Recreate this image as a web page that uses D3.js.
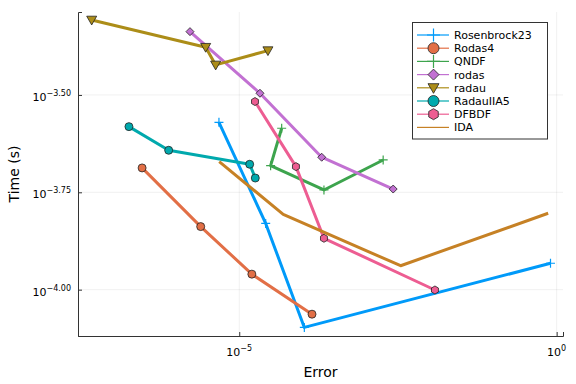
<!DOCTYPE html>
<html lang="en">
<head>
	<meta charset="utf-8">
	<title>Work-precision</title>
	<script src="https://cdn.jsdelivr.net/npm/d3@7"></script>
	<style>
		body { margin: 0; background: #fff; }
		text { font-family: "DejaVu Sans", sans-serif; fill: #000; }
	</style>
</head>
<body>
<script>
// Series names
var seriesNames = ["Rosenbrock23", "Rodas4", "QNDF", "rodas", "radau", "RadauIIA5", "DFBDF", "IDA"];

// Error values (x) per series
var errRosenbrock23 = [4.79e-6, 2.61e-5, 1.06e-4, 0.80];
var errRodas4       = [2.95e-7, 2.47e-6, 1.58e-5, 1.40e-4];
var errQNDF         = [4.66e-5, 3.12e-5, 2.16e-4, 1.85e-3];
var errRodas        = [1.675e-6, 2.12e-5, 1.99e-4, 2.66e-3];
var errRadau        = [4.74e-8, 2.96e-6, 4.25e-6, 2.83e-5];
var errRadauIIA5    = [1.83e-7, 7.73e-7, 1.46e-5, 1.79e-5];
var errDFBDF        = [1.77e-5, 7.82e-5, 2.16e-4, 1.21e-2];
var errIDA          = [4.84e-6, 4.93e-5, 3.48e-3, 0.735];

// Time values (y) per series
var timeRosenbrock23 = [2.69e-4, 1.479e-4, 8.0e-5, 1.169e-4];
var timeRodas4       = [2.054e-4, 1.452e-4, 1.096e-4, 8.65e-5];
var timeQNDF         = [2.597e-4, 2.082e-4, 1.803e-4, 2.153e-4];
var timeRodas        = [4.598e-4, 3.194e-4, 2.188e-4, 1.813e-4];
var timeRadau        = [4.927e-4, 4.194e-4, 3.777e-4, 4.111e-4];
var timeRadauIIA5    = [2.622e-4, 2.28e-4, 2.099e-4, 1.935e-4];
var timeDFBDF        = [3.041e-4, 2.07e-4, 1.355e-4, 9.98e-5];
var timeIDA          = [2.131e-4, 1.561e-4, 1.152e-4, 1.571e-4];

// Tick labels
var xTickExps = [-5, 0];
var xTickLabels = ["\u22125", "0"];
var yTickExps = [-3.5, -3.75, -4];
var yTickLabels = ["\u22123.50", "\u22123.75", "\u22124.00"];

var errs = [errRosenbrock23, errRodas4, errQNDF, errRodas, errRadau, errRadauIIA5, errDFBDF, errIDA];
var times = [timeRosenbrock23, timeRodas4, timeQNDF, timeRodas, timeRadau, timeRadauIIA5, timeDFBDF, timeIDA];
var colors = ["#009af9", "#e26f46", "#3da44d", "#c271d2", "#ac8d18", "#00a9ad", "#ed5d92", "#c68125"];
var shapes = ["cross", "circle", "cross", "diamond", "dtriangle", "circle", "hexagon", "none"];

var width = 576, height = 384;
var plot = {left: 78, right: 563, top: 12, bottom: 336};

var svg = d3.select("body").append("svg")
	.attr("width", width)
	.attr("height", height);

var xScale = d3.scaleLog()
	.domain([Math.pow(10, -7.54), Math.pow(10, 0.1)])
	.range([plot.left, plot.right]);

var yScale = d3.scaleLog()
	.domain([Math.pow(10, -4.119), Math.pow(10, -3.287)])
	.range([plot.bottom, plot.top]);

var xTicks = xTickExps.map(function(e) { return Math.pow(10, e); });
var yTicks = yTickExps.map(function(e) { return Math.pow(10, e); });

// grid
svg.append("g").selectAll("line").data(xTicks).enter().append("line")
	.attr("x1", function(d) { return xScale(d); }).attr("x2", function(d) { return xScale(d); })
	.attr("y1", plot.top).attr("y2", plot.bottom)
	.attr("stroke", "#000").attr("stroke-opacity", 0.1).attr("stroke-width", 0.6);
svg.append("g").selectAll("line").data(yTicks).enter().append("line")
	.attr("y1", function(d) { return yScale(d); }).attr("y2", function(d) { return yScale(d); })
	.attr("x1", plot.left).attr("x2", plot.right)
	.attr("stroke", "#000").attr("stroke-opacity", 0.1).attr("stroke-width", 0.6);

// axes (ticks inward, labels drawn separately)
var xAxis = d3.axisBottom(xScale).tickValues(xTicks).tickSize(-4).tickFormat("");
var yAxis = d3.axisLeft(yScale).tickValues(yTicks).tickSize(-4).tickFormat("");

var gx = svg.append("g").attr("transform", "translate(0," + plot.bottom + ")").call(xAxis);
var gy = svg.append("g").attr("transform", "translate(" + plot.left + ",0)").call(yAxis);
[gx, gy].forEach(function(g) {
	g.select(".domain").attr("stroke", "#333").attr("stroke-width", 1);
	g.selectAll(".tick line").attr("stroke", "#333");
});

// x tick labels with superscripts
xTicks.forEach(function(t, i) {
	var txt = svg.append("text")
		.attr("x", xScale(t))
		.attr("y", 356)
		.attr("text-anchor", "middle")
		.style("font-size", "11px");
	txt.append("tspan").text("10");
	txt.append("tspan").attr("dy", -5).style("font-size", "8px").text(xTickLabels[i]);
});

// y tick labels
yTicks.forEach(function(t, i) {
	var txt = svg.append("text")
		.attr("x", 71)
		.attr("y", yScale(t) + 6)
		.attr("text-anchor", "end")
		.style("font-size", "11px");
	txt.append("tspan").text("10");
	txt.append("tspan").attr("dy", -5).style("font-size", "8px").text(yTickLabels[i]);
});

// axis titles
svg.append("text").attr("x", (plot.left + plot.right) / 2).attr("y", 377)
	.attr("text-anchor", "middle").style("font-size", "14px").text("Error");
svg.append("text")
	.attr("transform", "translate(19," + ((plot.top + plot.bottom) / 2) + ") rotate(-90)")
	.attr("text-anchor", "middle").style("font-size", "14px").text("Time (s)");

// marker drawing
function drawMarker(g, shape, color, r) {
	if (shape === "circle") {
		g.append("circle").attr("r", r).attr("fill", color).attr("stroke", "#222").attr("stroke-width", 0.8);
	} else if (shape === "cross") {
		g.append("path").attr("d", "M" + (-r) + ",0H" + r + "M0," + (-r) + "V" + r)
			.attr("stroke", color).attr("stroke-width", 1.2).attr("fill", "none");
	} else if (shape === "diamond") {
		g.append("path").attr("d", "M0," + (-r) + "L" + r + ",0L0," + r + "L" + (-r) + ",0Z")
			.attr("fill", color).attr("stroke", "#222").attr("stroke-width", 0.8);
	} else if (shape === "dtriangle") {
		g.append("path").attr("d", "M" + (-r) + "," + (-r * 0.75) + "L" + r + "," + (-r * 0.75) + "L0," + (r * 1.0) + "Z")
			.attr("fill", color).attr("stroke", "#222").attr("stroke-width", 0.8);
	} else if (shape === "hexagon") {
		var pts = d3.range(6).map(function(k) {
			var a = Math.PI / 3 * k;
			return [r * Math.sin(a), -r * Math.cos(a)];
		});
		g.append("path").attr("d", "M" + pts.join("L") + "Z")
			.attr("fill", color).attr("stroke", "#222").attr("stroke-width", 0.8);
	}
}

var line = d3.line()
	.x(function(d) { return xScale(d[0]); })
	.y(function(d) { return yScale(d[1]); });

var plotG = svg.append("g");
seriesNames.forEach(function(name, i) {
	var pts = errs[i].map(function(e, j) { return [e, times[i][j]]; });
	plotG.append("path").datum(pts)
		.attr("d", line)
		.attr("fill", "none")
		.attr("stroke", colors[i])
		.attr("stroke-width", 3)
		.attr("stroke-linejoin", "round");
	var sz = shapes[i] === "cross" ? 4.5 : (shapes[i] === "dtriangle" ? 5 : 4);
	pts.forEach(function(p) {
		var g = plotG.append("g").attr("transform", "translate(" + xScale(p[0]) + "," + yScale(p[1]) + ")");
		drawMarker(g, shapes[i], colors[i], sz);
	});
});

// legend
var leg = svg.append("g");
leg.append("rect").attr("x", 412.5).attr("y", 22.5).attr("width", 135).attr("height", 116.5)
	.attr("fill", "#fff").attr("stroke", "#333").attr("stroke-width", 1);
seriesNames.forEach(function(name, i) {
	var y = 35 + i * 13.2;
	leg.append("line").attr("x1", 417).attr("x2", 449).attr("y1", y).attr("y2", y)
		.attr("stroke", colors[i]).attr("stroke-width", 1.2);
	var g = leg.append("g").attr("transform", "translate(433.5," + y + ")");
	drawMarker(g, shapes[i], colors[i], shapes[i] === "cross" ? 6.5 : 5.5);
	leg.append("text").attr("x", 454).attr("y", y + 4)
		.style("font-size", "11px").text(name);
});
</script>
</body>
</html>
